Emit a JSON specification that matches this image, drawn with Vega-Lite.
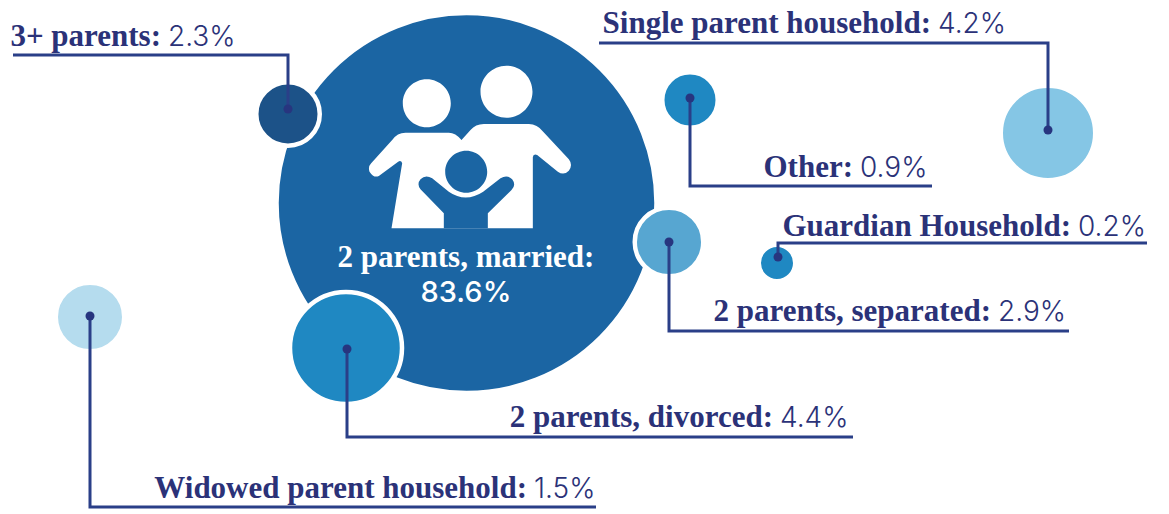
{
"$schema":"https://vega.github.io/schema/vega-lite/v6.json",
"autosize":{"type":"fit","contains":"padding"},
"width":1169,"height":514,"padding":0,
"background":"#ffffff",
"config":{"view":{"stroke":null}},
"datasets":{
"households":[
{"category":"2 parents, married","share":0.836,"x":466.5,"y":203,"label_x":466,"label_y":267},
{"category":"3+ parents","share":0.023,"x":288,"y":114,"label_x":161,"label_y":46},
{"category":"Single parent household","share":0.042,"x":1048,"y":133,"label_x":931,"label_y":33},
{"category":"Other","share":0.009,"x":690,"y":100,"label_x":853,"label_y":177},
{"category":"Guardian Household","share":0.002,"x":777,"y":263,"label_x":1071,"label_y":236},
{"category":"2 parents, separated","share":0.029,"x":669,"y":242,"label_x":991,"label_y":321},
{"category":"2 parents, divorced","share":0.044,"x":346,"y":348,"label_x":773,"label_y":427},
{"category":"Widowed parent household","share":0.015,"x":90,"y":317,"label_x":527,"label_y":498}
],
"leaders":[
{"category":"3+ parents","step":0,"x":288,"y":109},{"category":"3+ parents","step":1,"x":288,"y":55},{"category":"3+ parents","step":2,"x":13,"y":55},
{"category":"Single parent household","step":0,"x":1048,"y":130},{"category":"Single parent household","step":1,"x":1048,"y":43},{"category":"Single parent household","step":2,"x":599,"y":43},
{"category":"Other","step":0,"x":690,"y":98},{"category":"Other","step":1,"x":690,"y":186},{"category":"Other","step":2,"x":932,"y":186},
{"category":"Guardian Household","step":0,"x":778,"y":257},{"category":"Guardian Household","step":1,"x":778,"y":243},{"category":"Guardian Household","step":2,"x":1147,"y":243},
{"category":"2 parents, separated","step":0,"x":669,"y":242},{"category":"2 parents, separated","step":1,"x":669,"y":331},{"category":"2 parents, separated","step":2,"x":1069,"y":331},
{"category":"2 parents, divorced","step":0,"x":347,"y":349},{"category":"2 parents, divorced","step":1,"x":347,"y":437},{"category":"2 parents, divorced","step":2,"x":853,"y":437},
{"category":"Widowed parent household","step":0,"x":90,"y":316},{"category":"Widowed parent household","step":1,"x":90,"y":507},{"category":"Widowed parent household","step":2,"x":596,"y":507}
]
},
"data":{"name":"households"},
"encoding":{
"x":{"field":"x","type":"quantitative","axis":null,"scale":{"domain":[0,1169],"nice":false,"zero":false}},
"y":{"field":"y","type":"quantitative","axis":null,"scale":{"domain":[514,0],"nice":false,"zero":false}}
},
"layer":[
{"mark":{"type":"point","shape":"circle","filled":true,"opacity":1,"stroke":"#ffffff","strokeWidth":4.5,"strokeOpacity":1},
"encoding":{
"size":{"field":"category","type":"nominal","legend":null,"scale":{"type":"ordinal","domain":["2 parents, married","3+ parents","Single parent household","Other","Guardian Household","2 parents, separated","2 parents, divorced","Widowed parent household"],"range":[144400,4032,8930,3080,1332,4692,12544,4692]}},
"color":{"field":"category","type":"nominal","legend":null,"scale":{"domain":["2 parents, married","3+ parents","Single parent household","Other","Guardian Household","2 parents, separated","2 parents, divorced","Widowed parent household"],"range":["#1b65a3","#1c5288","#85c6e5","#1f88c2","#1f88c2","#57a6d1","#1f88c2","#b5dcee"]}}
}},
{"transform":[{"filter":"datum.share > 0.5"}],
"mark":{"type":"point","filled":true,"opacity":1,"size":4,"color":"#ffffff",
"shape":"M-75,25.33L-64.33,-39.67Q-65.33,-43 -68.33,-41.33L-87.67,-27Q-92.67,-24.67 -97,-31.33Q-98.67,-36.33 -95.33,-39.67L-74.33,-63Q-69.33,-70.33 -61,-70.33L-17.67,-70.33Q-11,-70.33 -5,-63L4,-73Q9,-79 17.33,-79L62.33,-79Q70.67,-79 76.67,-71.33L102.33,-43.67Q106.67,-38 102.33,-32.33Q97.33,-27 91.33,-31.33L70.67,-48Q66.67,-49.67 66.33,-45.67L66.33,25.33ZM-63.7,-99.7A24,24 0 1 0 -15.7,-99.7A24,24 0 1 0 -63.7,-99.7ZM14,-111.3A26,26 0 1 0 66,-111.3A26,26 0 1 0 14,-111.3Z"}},
{"transform":[{"filter":"datum.share > 0.5"}],
"mark":{"type":"point","filled":true,"opacity":1,"size":4,"color":"#1b65a3",
"shape":"M-22.67,25.33L-22.67,10.33L-46,-13.67Q-50,-19 -46,-23.67Q-41,-29 -34.33,-24.67L-17.67,-11.33Q-1,0.33 16.67,-11.33L34,-24.67Q40.67,-29 45.67,-23.67Q50,-18 45,-13L21.33,10.33L21.33,25.33ZM-21.3,-31.3A21,21 0 1 0 20.7,-31.3A21,21 0 1 0 -21.3,-31.3Z"}},
{"data":{"name":"leaders"},
"mark":{"type":"line","color":"#2a3f88","strokeWidth":3,"interpolate":"linear","strokeCap":"butt","strokeJoin":"miter"},
"encoding":{"detail":{"field":"category","type":"nominal"},"order":{"field":"step","type":"ordinal"}}},
{"data":{"name":"leaders"},"transform":[{"filter":"datum.step === 0"}],
"mark":{"type":"point","shape":"circle","filled":true,"opacity":1,"size":81,"color":"#27357f"}},
{"transform":[{"filter":"datum.share < 0.5"},{"calculate":"datum.category + ':'","as":"label"}],
"mark":{"type":"text","align":"right","baseline":"alphabetic","font":"Liberation Serif","fontWeight":"bold","fontSize":31,"color":"#2b3278"},
"encoding":{"x":{"field":"label_x","type":"quantitative"},"y":{"field":"label_y","type":"quantitative"},"text":{"field":"label","type":"nominal"}}},
{"transform":[{"filter":"datum.share < 0.5"}],
"mark":{"type":"text","align":"left","baseline":"alphabetic","dx":7,"font":"Inter","fontWeight":300,"fontSize":28,"color":"#2b3278"},
"encoding":{"x":{"field":"label_x","type":"quantitative"},"y":{"field":"label_y","type":"quantitative"},"text":{"field":"share","type":"quantitative","format":".1%"}}},
{"transform":[{"filter":"datum.share > 0.5"},{"calculate":"datum.category + ':'","as":"label"}],
"mark":{"type":"text","align":"center","baseline":"alphabetic","font":"Liberation Serif","fontWeight":"bold","fontSize":31,"color":"#ffffff"},
"encoding":{"x":{"field":"label_x","type":"quantitative"},"y":{"field":"label_y","type":"quantitative"},"text":{"field":"label","type":"nominal"}}},
{"transform":[{"filter":"datum.share > 0.5"}],
"mark":{"type":"text","align":"center","baseline":"alphabetic","dy":35,"font":"Inter","fontWeight":500,"fontSize":29,"color":"#ffffff"},
"encoding":{"x":{"field":"label_x","type":"quantitative"},"y":{"field":"label_y","type":"quantitative"},"text":{"field":"share","type":"quantitative","format":".1%"}}}
]
}
